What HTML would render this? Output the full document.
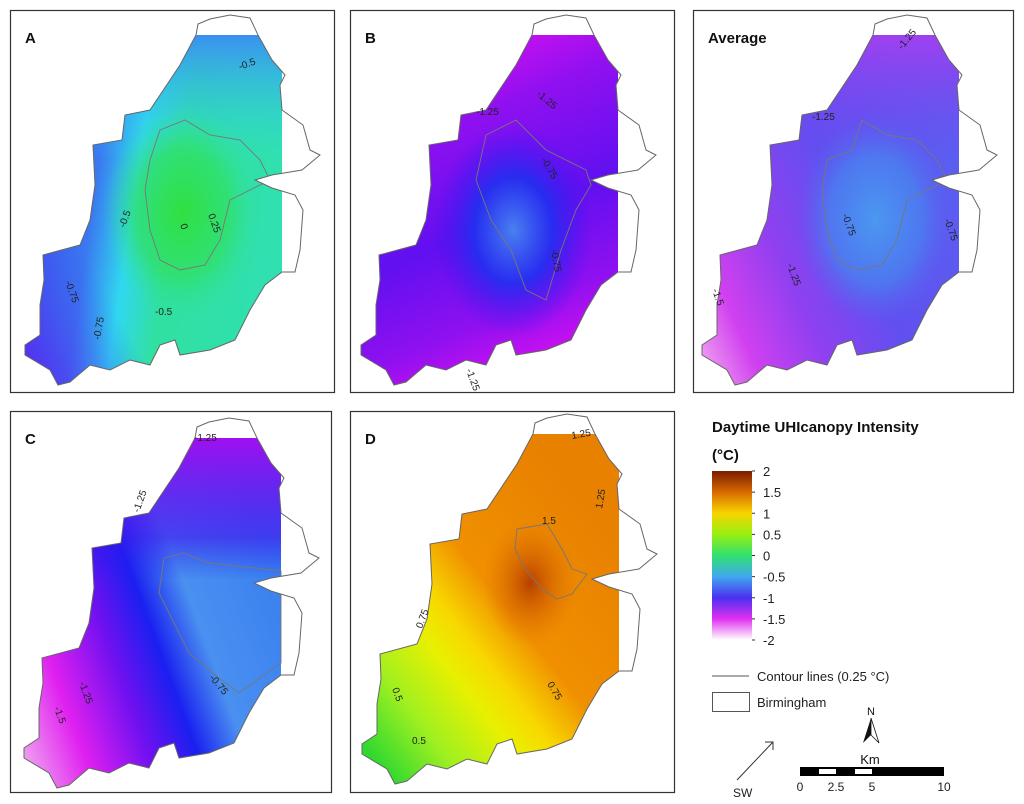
<!DOCTYPE html>
<html><head><meta charset="utf-8">
<style>
html,body{margin:0;padding:0;background:#fff;}
svg{display:block;font-family:"Liberation Sans",Arial,sans-serif;}
</style></head>
<body>
<svg id="fig" width="1024" height="804" viewBox="0 0 1024 804" xmlns="http://www.w3.org/2000/svg">
<defs>
  <linearGradient id="cbar" x1="0" y1="0" x2="0" y2="1">
    <stop offset="0" stop-color="#7a1c00"/>
    <stop offset="0.125" stop-color="#d86a00"/>
    <stop offset="0.25" stop-color="#f8d400"/>
    <stop offset="0.375" stop-color="#98f010"/>
    <stop offset="0.5" stop-color="#30e070"/>
    <stop offset="0.625" stop-color="#40a8f0"/>
    <stop offset="0.75" stop-color="#4a30f0"/>
    <stop offset="0.875" stop-color="#e030f0"/>
    <stop offset="1" stop-color="#ffffff"/>
  </linearGradient>
  <!-- A -->
  <linearGradient id="gA" x1="0" y1="0.3" x2="1" y2="0.5">
    <stop offset="0" stop-color="#3a50f0"/><stop offset="0.3" stop-color="#3a78f0"/>
    <stop offset="0.45" stop-color="#30d8f0"/><stop offset="0.6" stop-color="#30e0a0"/>
    <stop offset="1" stop-color="#30e0b0"/>
  </linearGradient>
  <radialGradient id="gA2" cx="0.62" cy="0.5" r="0.3">
    <stop offset="0" stop-color="#30e040" stop-opacity="1"/><stop offset="0.6" stop-color="#30e060" stop-opacity="0.7"/>
    <stop offset="1" stop-color="#30e0a0" stop-opacity="0"/>
  </radialGradient>
  <linearGradient id="gA3" x1="0.6" y1="0" x2="0.6" y2="0.35">
    <stop offset="0" stop-color="#3a90f0" stop-opacity="1"/><stop offset="1" stop-color="#30d8f0" stop-opacity="0"/>
  </linearGradient>
  <linearGradient id="gA4" x1="0" y1="1" x2="0.35" y2="0.75">
    <stop offset="0" stop-color="#6020f0" stop-opacity="1"/><stop offset="1" stop-color="#3a50f0" stop-opacity="0"/>
  </linearGradient>
  <!-- B -->
  <linearGradient id="gB" x1="0.3" y1="0" x2="0.6" y2="1">
    <stop offset="0" stop-color="#e010f0"/><stop offset="0.25" stop-color="#9010f0"/>
    <stop offset="0.55" stop-color="#6010f0"/><stop offset="0.8" stop-color="#9010f0"/>
    <stop offset="1" stop-color="#e010f0"/>
  </linearGradient>
  <radialGradient id="gB2" cx="0.6" cy="0.55" r="0.3">
    <stop offset="0" stop-color="#4a80f0" stop-opacity="1"/><stop offset="0.5" stop-color="#2030f0" stop-opacity="0.9"/>
    <stop offset="1" stop-color="#4010f0" stop-opacity="0"/>
  </radialGradient>
  <!-- Average -->
  <linearGradient id="gAvg" x1="1" y1="0.3" x2="0" y2="0.9">
    <stop offset="0" stop-color="#5a60f0"/><stop offset="0.4" stop-color="#6050f0"/>
    <stop offset="0.65" stop-color="#9040f0"/><stop offset="0.85" stop-color="#d040f0"/>
    <stop offset="1" stop-color="#f0a0f0"/>
  </linearGradient>
  <radialGradient id="gAvg2" cx="0.68" cy="0.52" r="0.3">
    <stop offset="0" stop-color="#4a98f0" stop-opacity="1"/><stop offset="0.6" stop-color="#4a80f0" stop-opacity="0.8"/>
    <stop offset="1" stop-color="#5a60f0" stop-opacity="0"/>
  </radialGradient>
  <linearGradient id="gAvg3" x1="0.7" y1="0" x2="0.7" y2="0.35">
    <stop offset="0" stop-color="#a040f0" stop-opacity="1"/><stop offset="1" stop-color="#7040f0" stop-opacity="0"/>
  </linearGradient>
  <!-- C -->
  <linearGradient id="gC" x1="1" y1="0.4" x2="0" y2="0.9">
    <stop offset="0" stop-color="#3a80f0"/><stop offset="0.3" stop-color="#4a90f0"/>
    <stop offset="0.45" stop-color="#1a20f0"/><stop offset="0.6" stop-color="#7010f0"/>
    <stop offset="0.8" stop-color="#e020f0"/><stop offset="1" stop-color="#f0a8f0"/>
  </linearGradient>
  <linearGradient id="gC2" x1="0.6" y1="0" x2="0.6" y2="0.4">
    <stop offset="0" stop-color="#a010f0" stop-opacity="1"/><stop offset="0.7" stop-color="#4010f0" stop-opacity="0.6"/><stop offset="1" stop-color="#2020f0" stop-opacity="0"/>
  </linearGradient>
  <!-- D -->
  <linearGradient id="gD" x1="0.85" y1="0.15" x2="0.1" y2="0.95">
    <stop offset="0" stop-color="#e88000"/><stop offset="0.4" stop-color="#f09000"/>
    <stop offset="0.55" stop-color="#f8d800"/><stop offset="0.65" stop-color="#e8f000"/>
    <stop offset="0.82" stop-color="#a0f020"/><stop offset="1" stop-color="#30d830"/>
  </linearGradient>
  <radialGradient id="gD2" cx="0.66" cy="0.42" r="0.18">
    <stop offset="0" stop-color="#b84000" stop-opacity="1"/><stop offset="1" stop-color="#e07000" stop-opacity="0"/>
  </radialGradient>
</defs>
<g id="panels"></g>
<g id="legend">
  <text x="712" y="432" font-size="15" font-weight="bold" fill="#111">Daytime UHIcanopy Intensity</text>
  <text x="712" y="460" font-size="15" font-weight="bold" fill="#111">(°C)</text>
  <rect x="712" y="471" width="40" height="169" fill="url(#cbar)"/>
  <g id="cbticks"></g>
  <line x1="712" y1="676" x2="749" y2="676" stroke="#555" stroke-width="1"/>
  <text x="757" y="681" font-size="13" fill="#222">Contour lines (0.25 °C)</text>
  <rect x="712.5" y="692.5" width="37" height="19" fill="#fff" stroke="#555"/>
  <text x="757" y="707" font-size="13" fill="#222">Birmingham</text>
  <g>
    <text x="871" y="715" font-size="11" text-anchor="middle" fill="#111">N</text>
    <polygon points="871,718 863,743 871,735" fill="#111"/>
    <polygon points="871,718 879,743 871,735" fill="#fff" stroke="#111" stroke-width="0.8"/>
  </g>
  <g>
    <line x1="737" y1="780" x2="773" y2="742" stroke="#333" stroke-width="1"/>
    <polyline points="765,742 773,742 773,750" fill="none" stroke="#333" stroke-width="1"/>
    <text x="733" y="797" font-size="12" fill="#222">SW</text>
  </g>
  <g>
    <text x="870" y="764" font-size="13" text-anchor="middle" fill="#111">Km</text>
    <rect x="800" y="767" width="144" height="9" fill="#000"/>
    <rect x="819" y="769" width="17" height="5" fill="#fff"/>
    <rect x="855" y="769" width="17" height="5" fill="#fff"/>
    <g id="scaleLabels"></g>
  </g>
</g>
<script>
const cbTickLabels = ["2","1.5","1","0.5","0","-0.5","-1","-1.5","-2"];
const cbTickValues = [2,1.5,1,0.5,0,-0.5,-1,-1.5,-2];
const scaleKm = [0,2.5,5,10];
const scaleLabels = ["0","2.5","5","10"];

const NS="http://www.w3.org/2000/svg";
function mk(tag,attrs,parent){const e=document.createElementNS(NS,tag);for(const k in attrs)e.setAttribute(k,attrs[k]);parent.appendChild(e);return e;}
const cbTop=471,cbBot=640;
function cbY(v){return cbTop+(2-v)/4*(cbBot-cbTop);}
const cbg=document.getElementById('cbticks');
cbTickValues.forEach((v,i)=>{
  const y=cbY(v);
  const l=mk('line',{x1:752,y1:y,x2:755,y2:y,stroke:'#333'},cbg);
  
  
  const t=mk('text',{x:763,y:y+5,'font-size':13,fill:'#222'},cbg);
  t.textContent=cbTickLabels[i];
  
  
});
function kmX(k){return 800+k/10*144;}
const sg=document.getElementById('scaleLabels');
scaleKm.forEach((k,i)=>{
  const t=mk('text',{x:kmX(k),y:791,'font-size':12,'text-anchor':'middle',fill:'#222'},sg);
  t.textContent=scaleLabels[i];
  
  
});

const outline="M186,25 L188,14 L200,9 L220,5 L240,8 L248,25 L262,50 L275,65 L270,75 L272,100 L293,115 L300,140 L310,145 L292,160 L262,165 L245,170 L262,178 L285,185 L293,200 L290,240 L285,262 L272,262 L255,275 L240,300 L225,330 L200,340 L170,345 L165,330 L150,335 L140,355 L120,350 L100,360 L80,355 L60,372 L48,375 L40,360 L15,345 L15,335 L30,325 L30,295 L34,270 L33,245 L70,235 L80,210 L85,175 L83,135 L112,130 L115,105 L140,100 L150,85 L170,55 Z";
const contourA="M120,130 L135,110 L160,105 L175,120 L200,118 L230,120 L245,110 L262,100 L272,95";
const innerA="M150,120 L175,110 L200,125 L230,130 L250,150 L260,170 L240,180 L220,190 L210,230 L195,255 L170,260 L150,250 L140,220 L135,180 L140,150 Z";
const panels=[
 {name:'panel-a',label:'A',x:10,y:10,w:324,h:382,dx:0,dy:0,fills:['gA','gA3','gA2','gA4'],loops:[innerA],tags:[["-0.5",230,60,-20],["-0.5",115,218,-70],["-0.75",55,272,70],["0",170,215,70],["0.25",198,205,70],["-0.5",145,305,0],["-0.75",90,330,-80]]},
 {name:'panel-b',label:'B',x:350,y:10,w:324,h:382,dx:-4,dy:0,fills:['gB','gB2'],loops:["M140,125 L170,110 L200,140 L240,160 L245,175 L230,200 L215,240 L200,290 L180,280 L165,240 L145,210 L130,170 Z"],tags:[["-1.25",190,85,40],["-1.25",130,105,0],["-0.75",195,150,60],["-0.75",205,240,80],["-1.25",120,360,70]]},
 {name:'panel-average',label:'Average',x:693,y:10,w:320,h:382,dx:-6,dy:0,fills:['gAvg','gAvg3','gAvg2'],loops:[innerA.replace(/M150,120/,'M165,140')],tags:[["-1.25",215,40,-50],["-1.25",125,110,0],["-0.75",155,205,70],["-1.25",100,255,70],["-1.5",25,280,70],["-0.75",257,210,70]]},
 {name:'panel-c',label:'C',x:10,y:411,w:321,h:381,dx:-1,dy:2,fills:['gC','gC2'],loops:["M155,145 L175,140 L200,150 L245,155 L272,158 L272,250 L230,280 L210,265 L180,240 L165,210 L150,180 Z"],tags:[["-1.25",185,28,0],["-1.25",130,100,-70],["-0.75",200,265,50],["-1.25",70,270,70],["-1.5",45,295,70]]},
 {name:'panel-d',label:'D',x:350,y:411,w:324,h:381,dx:-3,dy:-2,fills:['gD','gD2'],loops:["M170,120 L200,115 L215,140 L225,160 L240,165 L225,185 L210,190 L195,180 L178,160 L168,140 Z"],tags:[["1.25",225,30,-10],["1.5",195,115,0],["1.25",255,100,-80],["0.75",75,220,-70],["0.5",45,280,70],["0.75",200,275,60],["0.5",65,335,0]]}
];
const pg=document.getElementById('panels');
panels.forEach((p,i)=>{
  const g=mk('g',{},pg);
  
  
  const fr=mk('rect',{x:p.x+0.5,y:p.y+0.5,width:p.w,height:p.h,fill:'#fff',stroke:'#333','stroke-width':1.2},g);
  
  
  const ox=p.x+p.dx, oy=p.y+p.dy;
  const cid='clip'+i;
  const cp=mk('clipPath',{id:cid},g);
  mk('path',{d:outline,transform:`translate(${ox},${oy})`},cp);
  const mg=mk('g',{'clip-path':`url(#${cid})`},g);
  p.fills.forEach(f=>{
    const bg=mk('rect',{x:ox+10,y:oy+25,width:262,height:355,fill:`url(#${f})`},mg);
    
    
  });
  p.loops.forEach(d=>{
    const c=mk('path',{d:d,transform:`translate(${ox},${oy})`,fill:'none',stroke:'#777','stroke-width':0.9},mg);
    
    
  });
  const ol=mk('path',{d:outline,transform:`translate(${ox},${oy})`,fill:'none',stroke:'#666','stroke-width':1},g);
  
  
  p.tags.forEach(tg=>{
    const t=mk('text',{x:ox+tg[1],y:oy+tg[2],'font-size':10,fill:'#222',transform:`rotate(${tg[3]} ${ox+tg[1]} ${oy+tg[2]})`},g);
    t.textContent=tg[0];
    
    
  });
  const lt=mk('text',{x:p.x+15,y:p.y+33,'font-size':15,'font-weight':'bold',fill:'#111'},g);
  lt.textContent=p.label;
  
  
});
</script>
</svg>
</body></html>
